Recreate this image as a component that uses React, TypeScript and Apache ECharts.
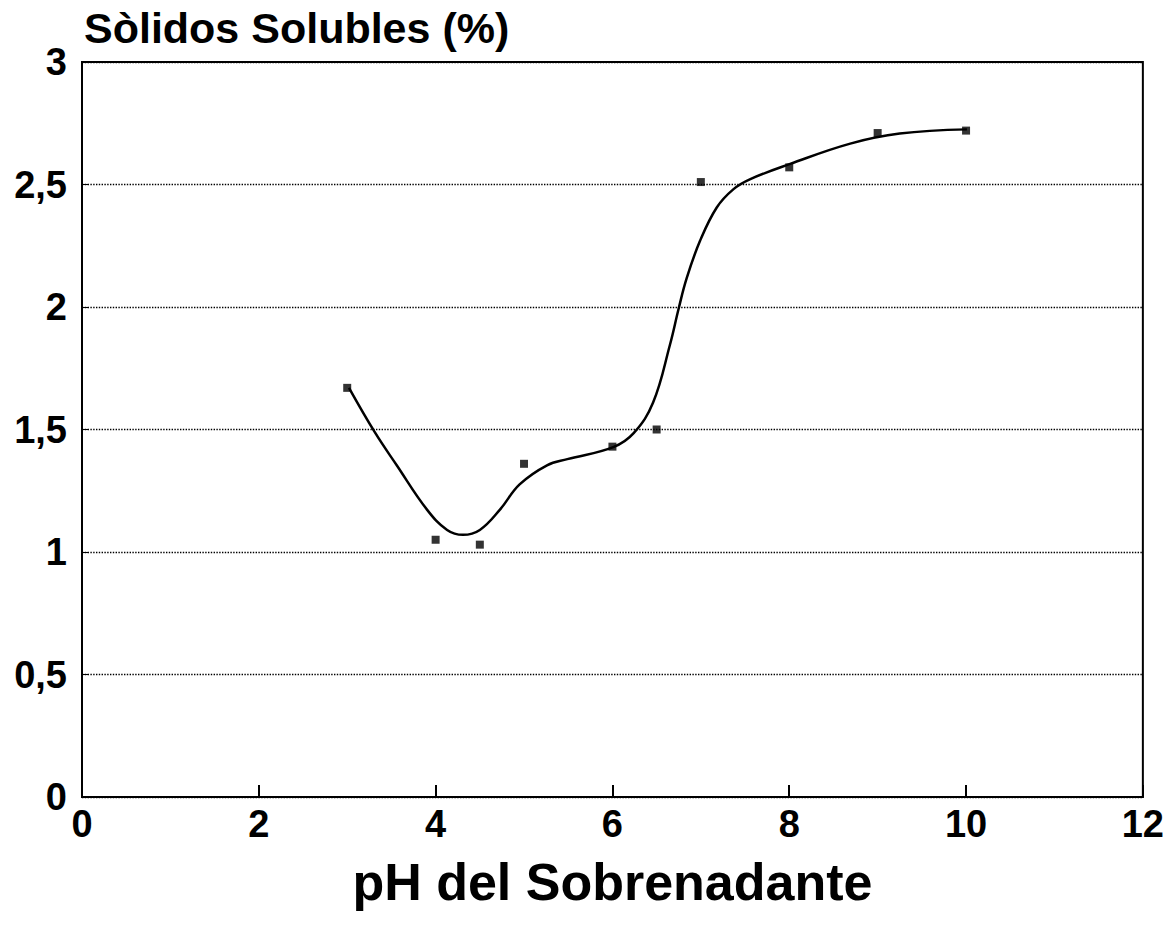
import React, { useEffect, useRef } from "react";
import * as echarts from "echarts";

// Measured points (pH, soluble solids %)
const phValues = [3, 4, 4.5, 5, 6, 6.5, 7, 8, 9, 10];
const solidsValues = [1.67, 1.05, 1.03, 1.36, 1.43, 1.5, 2.51, 2.57, 2.71, 2.72];

// Hand-drawn fitted curve
const curveX = [3.02, 3.31, 3.56, 3.9, 4.13, 4.31, 4.5, 4.73, 4.95, 5.26, 5.49, 6.01, 6.24, 6.46, 6.65, 6.75, 6.84, 6.99, 7.18, 7.37, 7.56, 8.01, 8.69, 9.25, 10.01];
const curveY = [1.67, 1.49, 1.354, 1.174, 1.09, 1.07, 1.09, 1.174, 1.276, 1.354, 1.379, 1.428, 1.485, 1.61, 1.845, 1.995, 2.118, 2.269, 2.406, 2.481, 2.522, 2.584, 2.667, 2.708, 2.725];

const xTicks = [0, 2, 4, 6, 8, 10, 12];
const yTicks = ["0", "0,5", "1", "1,5", "2", "2,5", "3"];

const yTitle = "Sòlidos Solubles (%)";
const xTitle = "pH del Sobrenadante";

const FONT = "'Liberation Sans', Arial, Helvetica, sans-serif";

export default function App() {
  const ref = useRef<HTMLDivElement>(null);
  useEffect(() => {
    if (!ref.current) return;
    const chart = echarts.init(ref.current, undefined, { renderer: "svg" });
    chart.setOption({
      animation: false,
      backgroundColor: "#ffffff",
      title: {
        text: yTitle,
        left: 84,
        top: 6,
        padding: 0,
        textStyle: { fontFamily: FONT, fontWeight: "bold", fontSize: 43, color: "#000" },
      },
      grid: {
        left: 82,
        right: 24,
        top: 62,
        bottom: 134,
        show: true,
        borderColor: "#000",
        borderWidth: 2,
        backgroundColor: "transparent",
      },
      xAxis: {
        type: "value",
        min: 0,
        max: 12,
        interval: 2,
        name: xTitle,
        nameLocation: "middle",
        nameGap: 59,
        nameTextStyle: { fontFamily: FONT, fontWeight: "bold", fontSize: 52, color: "#000" },
        axisLine: { show: true, lineStyle: { color: "#000", width: 2 } },
        axisTick: { show: true, inside: true, length: 12, lineStyle: { color: "#000", width: 2 } },
        axisLabel: {
          margin: 8,
          fontFamily: FONT,
          fontWeight: "bold",
          fontSize: 38,
          color: "#000",
          formatter: (v: number) => (xTicks.includes(v) ? String(v) : ""),
        },
        splitLine: { show: false },
      },
      yAxis: {
        type: "value",
        min: 0,
        max: 3,
        interval: 0.5,
        axisLine: { show: true, lineStyle: { color: "#000", width: 2 } },
        axisTick: { show: true, inside: true, length: 6, lineStyle: { color: "#000", width: 1 } },
        axisLabel: {
          margin: 15,
          fontFamily: FONT,
          fontWeight: "bold",
          fontSize: 38,
          color: "#000",
          formatter: (v: number) => yTicks[Math.round(v * 2)] ?? "",
        },
        splitLine: { show: true, lineStyle: { color: "#000", width: 1.4, type: "dotted" } },
      },
      series: [
        {
          name: "Curva",
          type: "line",
          data: curveX.map((x, i) => [x, curveY[i]]),
          smooth: 0.4,
          showSymbol: false,
          lineStyle: { color: "#000", width: 2.5 },
          z: 3,
        },
        {
          name: "Datos",
          type: "scatter",
          data: phValues.map((x, i) => [x, solidsValues[i]]),
          symbol: "rect",
          symbolSize: 8,
          itemStyle: { color: "#000" },
          z: 4,
        },
      ],
    });
    return () => chart.dispose();
  }, []);
  return (
    <div
      ref={ref}
      style={{ position: "fixed", left: 0, top: 0, width: 1167, height: 931, background: "#fff" }}
    />
  );
}
